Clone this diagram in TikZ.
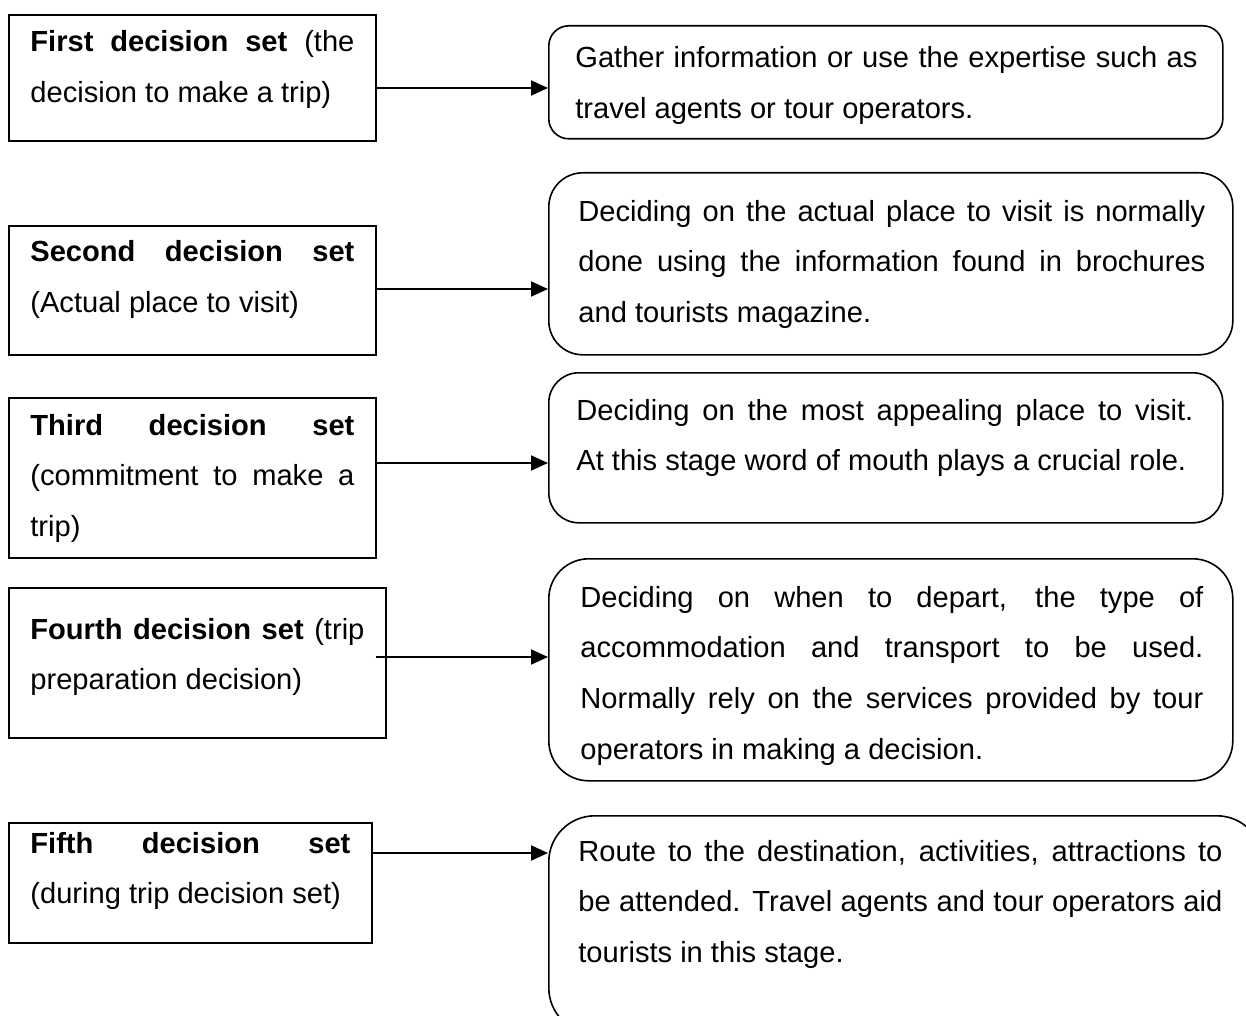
\documentclass[tikz,border=0pt]{standalone}
\usepackage{fontspec}
\setmainfont{Liberation Sans}
\usetikzlibrary{positioning, arrows.meta}
\hyphenpenalty=10000
\exhyphenpenalty=10000
\tolerance=10000
\hbadness=10000

\begin{document}
\begin{tikzpicture}[
  x=0.5pt, y=-0.5pt,
  setbox/.style={rectangle, draw, line width=0.8pt, anchor=north west, inner sep=0pt},
  actbox/.style={rectangle, draw, line width=0.8pt, anchor=north west, inner sep=0pt},
  txt/.style={anchor=base west, inner sep=0pt, align=justify,
              font=\fontsize{14.55pt}{25.4pt}\selectfont},
  arr/.style={-{Triangle[length=8.5pt,width=7.5pt]}, line width=1pt},
]
\clip (0,0) rectangle (1246,1016);

% ---- Decision sets (left) ----
\node[setbox, minimum width=183.5pt, minimum height=63pt]   (set1) at (8,14)  {};
\node[setbox, minimum width=183.5pt, minimum height=64.5pt] (set2) at (8,225) {};
\node[setbox, minimum width=183.5pt, minimum height=80pt]   (set3) at (8,397) {};
\node[setbox, minimum width=188.5pt, minimum height=75pt]   (set4) at (8,587) {};
\node[setbox, minimum width=181.5pt, minimum height=60pt]   (set5) at (8,822) {};

\node[txt, text width=162pt] (set1txt) at (30,52)
   {\textbf{First decision set} (the\linebreak decision to make a trip)};
\node[txt, text width=162pt] (set2txt) at (30,262)
   {\textbf{Second decision set}\linebreak (Actual place to visit)};
\node[txt, text width=162pt] (set3txt) at (30,435)
   {\textbf{Third decision set}\linebreak (commitment to make a\linebreak trip)};
\node[txt, text width=167pt] (set4txt) at (30,639)
   {\textbf{Fourth decision set} (trip\linebreak preparation decision)};
\node[txt, text width=160pt] (set5txt) at (30,853)
   {\textbf{Fifth decision set}\linebreak (during trip decision set)};

% ---- Actions (right) ----
\node[actbox, rounded corners=10pt, minimum width=337pt, minimum height=56.5pt]  (act1) at (548,25)  {};
\node[actbox, rounded corners=17pt, minimum width=342pt, minimum height=91pt]    (act2) at (548,172) {};
\node[actbox, rounded corners=15pt, minimum width=337pt, minimum height=75pt]    (act3) at (548,372) {};
\node[actbox, rounded corners=20pt, minimum width=342pt, minimum height=111pt]   (act4) at (548,558) {};
\node[actbox, rounded corners=23pt, minimum width=357pt, minimum height=109pt]   (act5) at (548,815) {};

\node[txt, text width=311pt] (act1txt) at (575,68)
   {Gather information or use the expertise such as\linebreak travel agents or tour operators.};
\node[txt, text width=313.5pt] (act2txt) at (578,221)
   {Deciding on the actual place to visit is normally\linebreak done using the information found in brochures\linebreak and tourists magazine.};
\node[txt, text width=308.5pt] (act3txt) at (576,420)
   {Deciding on the most appealing place to visit.\linebreak At this stage word of mouth plays a crucial role.};
\node[txt, text width=311.5pt] (act4txt) at (580,607)
   {Deciding on when to depart, the type of\linebreak accommodation and transport to be used.\linebreak Normally rely on the services provided by tour\linebreak operators in making a decision.};
\node[txt, text width=322pt] (act5txt) at (578,861)
   {Route to the destination, activities, attractions to\linebreak be attended. Travel agents and tour operators aid\linebreak tourists in this stage.};

% ---- Connectors ----
\draw[arr] (set1.east |- 0,88)  -- (act1.west |- 0,88);
\draw[arr] (set2.east |- 0,289) -- (act2.west |- 0,289);
\draw[arr] (set3.east |- 0,463) -- (act3.west |- 0,463);
\draw[arr, shorten <=-5.5pt] (set4.east |- 0,657) -- (act4.west |- 0,657);
\draw[arr] (set5.east |- 0,853) -- (act5.west |- 0,853);

\end{tikzpicture}
\end{document}
